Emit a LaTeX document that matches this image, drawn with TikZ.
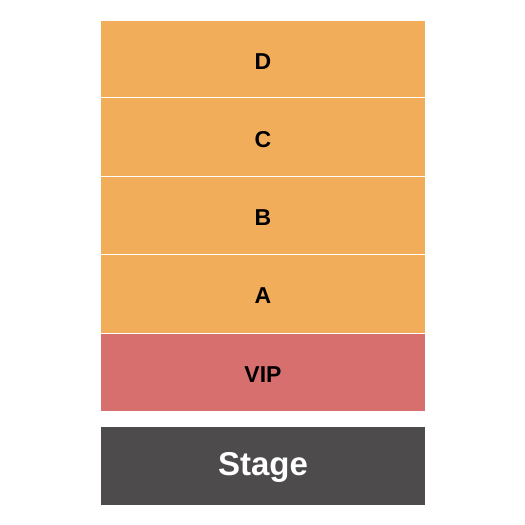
\documentclass[tikz,border=0pt]{standalone}
\usepackage{fontspec}
\setmainfont{Liberation Sans}
\definecolor{secorange}{HTML}{F2AD5B}
\definecolor{vipred}{HTML}{D86F6F}
\definecolor{stagegray}{HTML}{4D4B4C}
\tikzset{
  sec/.style={draw=none, inner sep=0pt, minimum width=324pt, anchor=north},
  lab/.style={anchor=base, inner sep=0pt, font=\bfseries\fontsize{23}{23}\selectfont, text=black},
  stagelab/.style={anchor=base, inner sep=0pt, font=\bfseries\fontsize{33}{33}\selectfont, text=white}
}
\begin{document}
\begin{tikzpicture}[x=1pt,y=-1pt]
\useasboundingbox (0,0) rectangle (525,525);
\fill[white] (0,0) rectangle (525,525);
\node[sec, fill=secorange, minimum height=76pt] (D) at (263,21) {};
\node[sec, fill=secorange, minimum height=78pt] (C) at (263,98) {};
\node[sec, fill=secorange, minimum height=77pt] (B) at (263,177) {};
\node[sec, fill=secorange, minimum height=77.7pt] (A) at (263,255) {};
\node[sec, fill=vipred, minimum height=76.7pt] (VIP) at (263,334) {};
\node[sec, fill=stagegray, minimum height=78pt] (Stage) at (263,426.7) {};
\node[lab] (lD) at (263,69.5) {D};
\node[lab] (lC) at (263,147.5) {C};
\node[lab] (lB) at (263,225.5) {B};
\node[lab] (lA) at (263,303.5) {A};
\node[lab] (lVIP) at (263,382) {VIP};
\node[stagelab] (lStage) at (263,475) {Stage};
\end{tikzpicture}
\end{document}
